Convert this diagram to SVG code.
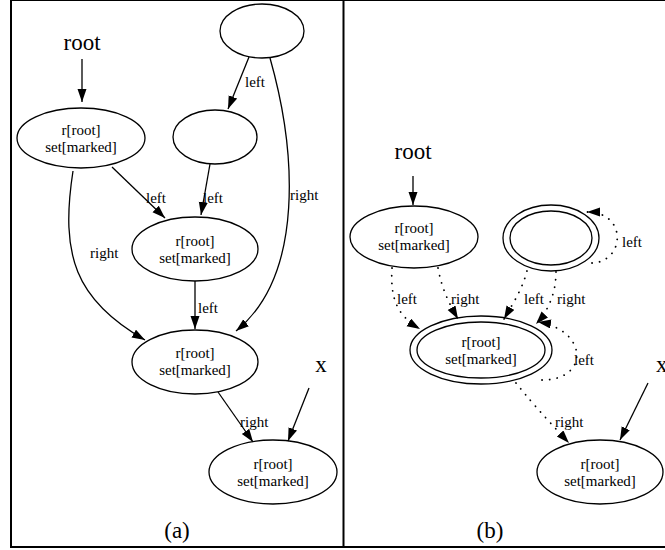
<svg xmlns="http://www.w3.org/2000/svg" width="665" height="550" viewBox="0 0 665 550">
<style>
text{font-family:"Liberation Serif","Times New Roman","DejaVu Serif",serif;fill:#000}
.n{font-size:15px;text-anchor:middle}
.e{font-size:15px}
.big{font-size:23px}
ellipse{fill:none;stroke:#000;stroke-width:1.3}
.c path,.c line{fill:none;stroke:#000;stroke-width:1.3}
.c .d{stroke-dasharray:0.1 7.5;stroke-linecap:round;stroke-width:1.8}
</style>
<defs>
<marker id="ah" markerUnits="userSpaceOnUse" markerWidth="14" markerHeight="11" refX="13" refY="4.5" orient="auto">
<path d="M0,0 L13,4.5 L0,9 z" fill="#000"/>
</marker>
</defs>
<g id="frame" fill="none" stroke="#000">
<line x1="11" y1="0" x2="11" y2="548" stroke-width="2"/>
<line x1="11" y1="0.5" x2="665" y2="0.5" stroke-width="1"/>
<line x1="10" y1="547" x2="665" y2="547" stroke-width="2"/>
<line x1="343.5" y1="0" x2="343.5" y2="548" stroke-width="2"/>
</g>
<g class="c" id="connectors">
<line x1="82" y1="59" x2="82" y2="102" marker-end="url(#ah)"/>
<path d="M249,57 L228,109" marker-end="url(#ah)"/>
<path d="M270,58 C296,150 305,275 236,331" marker-end="url(#ah)"/>
<path d="M112,167 L165,218" marker-end="url(#ah)"/>
<path d="M210,164 L201,215" marker-end="url(#ah)"/>
<path d="M73,171 C60,255 75,300 145,340" marker-end="url(#ah)"/>
<line x1="195" y1="281" x2="195" y2="329" marker-end="url(#ah)"/>
<path d="M218,392 L253,442" marker-end="url(#ah)"/>
<path d="M309,388 L288,441" marker-end="url(#ah)"/>
<line x1="413" y1="176" x2="413" y2="205" marker-end="url(#ah)"/>
<path d="M648,383 L620,440" marker-end="url(#ah)"/>
<path class="d" d="M392,268 C390,300 398,316 420,329" marker-end="url(#ah)"/>
<path class="d" d="M438,268 C442,290 450,305 458,319" marker-end="url(#ah)"/>
<path class="d" d="M527,271 C522,290 512,305 504,319" marker-end="url(#ah)"/>
<path class="d" d="M556,272 C556,292 549,310 536,324" marker-end="url(#ah)"/>
<path class="d" d="M542,380 C590,380 588,330 538,322" marker-end="url(#ah)"/>
<path class="d" d="M592,263 C625,262 628,212 587,212" marker-end="url(#ah)"/>
<path class="d" d="M516,383 C528,398 540,412 569,443" marker-end="url(#ah)"/>
</g>
<g id="edge-labels">
<text class="e" x="245" y="87">left</text>
<text class="e" x="290" y="200">right</text>
<text class="e" x="146" y="203">left</text>
<text class="e" x="203" y="203">left</text>
<text class="e" x="90" y="258">right</text>
<text class="e" x="198" y="313">left</text>
<text class="e" x="240" y="427">right</text>
<text class="e" x="397" y="304">left</text>
<text class="e" x="451" y="304">right</text>
<text class="e" x="524" y="304">left</text>
<text class="e" x="557" y="304">right</text>
<text class="e" x="622" y="247">left</text>
<text class="e" x="574" y="365">left</text>
<text class="e" x="555" y="427">right</text>
</g>
<g id="root-a"><text class="big" x="82" y="50" text-anchor="middle">root</text></g>
<g id="x-a"><text class="big" x="321" y="372" text-anchor="middle">x</text></g>
<g id="cap-a"><text class="big" x="177" y="538" text-anchor="middle">(a)</text></g>
<g id="nA"><ellipse cx="81" cy="138" rx="64" ry="30"/><text class="n" x="81" y="135">r[root]</text><text class="n" x="81" y="152">set[marked]</text></g>
<g id="nT"><ellipse cx="262" cy="31" rx="42" ry="27"/></g>
<g id="nM"><ellipse cx="215" cy="137" rx="42" ry="27"/></g>
<g id="nB"><ellipse cx="195" cy="249" rx="63" ry="32"/><text class="n" x="195" y="246">r[root]</text><text class="n" x="195" y="263">set[marked]</text></g>
<g id="nC"><ellipse cx="195" cy="362" rx="63" ry="32"/><text class="n" x="195" y="358">r[root]</text><text class="n" x="195" y="375">set[marked]</text></g>
<g id="nD"><ellipse cx="273" cy="472" rx="64" ry="32"/><text class="n" x="273" y="469">r[root]</text><text class="n" x="273" y="486">set[marked]</text></g>
<g id="root-b"><text class="big" x="413" y="159" text-anchor="middle">root</text></g>
<g id="x-b"><text class="big" x="656" y="372">x</text></g>
<g id="cap-b"><text class="big" x="490" y="538" text-anchor="middle">(b)</text></g>
<g id="nE"><ellipse cx="414" cy="237" rx="64" ry="31"/><text class="n" x="414" y="233">r[root]</text><text class="n" x="414" y="250">set[marked]</text></g>
<g id="nF"><ellipse cx="551" cy="238" rx="48" ry="33"/><ellipse cx="551" cy="238" rx="41" ry="27"/></g>
<g id="nG"><ellipse cx="481" cy="350" rx="71" ry="34"/><ellipse cx="481" cy="350" rx="64" ry="28"/><text class="n" x="481" y="347">r[root]</text><text class="n" x="481" y="364">set[marked]</text></g>
<g id="nH"><ellipse cx="600" cy="472" rx="63" ry="32"/><text class="n" x="600" y="469">r[root]</text><text class="n" x="600" y="486">set[marked]</text></g>
</svg>
